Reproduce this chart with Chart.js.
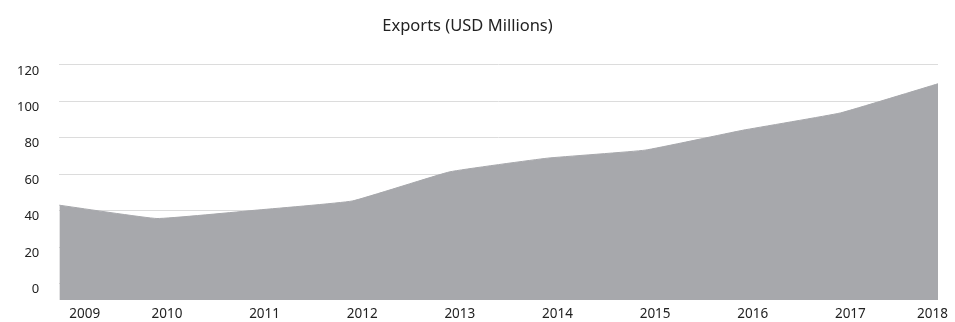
<!DOCTYPE html>
<html>
<head>
<meta charset="utf-8">
<script src="https://cdn.jsdelivr.net/npm/chart.js@4/dist/chart.umd.min.js"></script>
<style>
  html, body { margin: 0; padding: 0; background: #fff; }
  #wrap { width: 955px; height: 322px; position: relative; }
</style>
</head>
<body>
<div id="wrap"><canvas id="c"></canvas></div>
<script>
const categories = ['2009', '2010', '2011', '2012', '2013', '2014', '2015', '2016', '2017', '2018'];
const exportsValues = [43.0, 35.7, 40.2, 45.3, 61.3, 68.8, 73.2, 84.1, 93.6, 109.6];
const yTickValues = [0, 20, 40, 60, 80, 100, 120];
const titleText = 'Exports (USD Millions)';

const lastIndex = categories.length - 1;

new Chart(document.getElementById('c'), {
  type: 'line',
  data: {
    labels: categories,
    datasets: [{
      label: titleText,
      data: exportsValues,
      fill: 'start',
      backgroundColor: '#a7a8ac',
      borderColor: '#a7a8ac',
      borderWidth: 1,
      pointRadius: 0,
      pointHoverRadius: 0,
      tension: 0.1
    }]
  },
  options: {
    responsive: true,
    maintainAspectRatio: false,
    animation: false,
    layout: { padding: { left: -3, right: 17, top: 0, bottom: 0 } },
    plugins: {
      legend: { display: false },
      tooltip: { enabled: false },
      title: {
        display: true,
        text: titleText,
        color: '#222',
        font: { family: 'Noto Sans', size: 16.5, weight: 'normal' },
        padding: { top: 16, bottom: 29 }
      }
    },
    scales: {
      x: {
        type: 'category',
        offset: false,
        border: { display: false },
        grid: { display: false, drawTicks: false },
        afterFit: (axis) => { axis.height = 22; },
        ticks: {
          color: '#222',
          font: { family: 'Noto Sans', size: 13.5 },
          padding: 6.5,
          align: 'inner',
          maxRotation: 0,
          autoSkip: false,
          labelOffset: (ctx) => (ctx.index === 0 || ctx.index === lastIndex) ? 0 : 10
        }
      },
      y: {
        min: -9,
        max: 120,
        border: { display: false },
        grid: { color: '#dcdcdc', lineWidth: 1, drawTicks: false },
        afterBuildTicks: (axis) => { axis.ticks = yTickValues.map(v => ({ value: v })); },
        afterFit: (axis) => { axis.paddingTop = 0; axis.paddingBottom = 0; },
        ticks: {
          color: '#222',
          font: { family: 'Noto Sans', size: 13 },
          padding: 20,
          labelOffset: 6
        }
      }
    }
  }
});
</script>
</body>
</html>
